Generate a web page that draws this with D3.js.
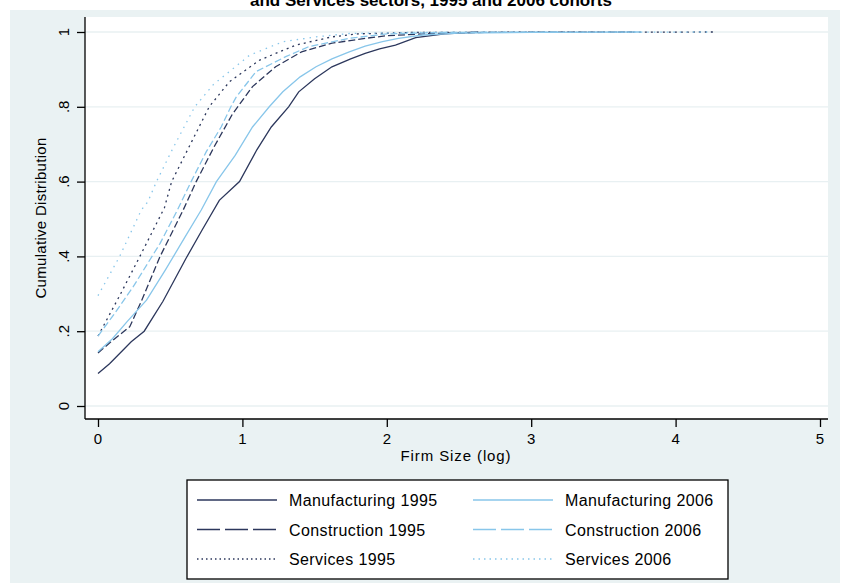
<!DOCTYPE html>
<html>
<head>
<meta charset="utf-8">
<script src="https://cdn.jsdelivr.net/npm/d3@7"></script>
<style>
  body { margin: 0; background: #fff; }
  text { font-family: "Liberation Sans", Arial, sans-serif; fill: #000; }
</style>
</head>
<body>
<svg id="chart" width="844" height="583"></svg>
<script>
// ECDF points: [firm size (log), cumulative share]
const mfg1995 = [[0, 0.087], [0.08, 0.113], [0.23, 0.172], [0.32, 0.2], [0.45, 0.28], [0.61, 0.395], [0.72, 0.47], [0.84, 0.55], [0.98, 0.6], [1.1, 0.685], [1.2, 0.746], [1.32, 0.8], [1.39, 0.84], [1.5, 0.875], [1.62, 0.907], [1.75, 0.928], [1.85, 0.943], [1.95, 0.955], [2.06, 0.965], [2.2, 0.985], [2.4, 0.995], [2.63, 1]];
const con1995 = [[0, 0.142], [0.1, 0.175], [0.22, 0.212], [0.3, 0.28], [0.43, 0.4], [0.59, 0.524], [0.68, 0.6], [0.8, 0.69], [0.93, 0.78], [1.07, 0.854], [1.23, 0.907], [1.41, 0.947], [1.62, 0.97], [1.85, 0.983], [2.0, 0.99], [2.3, 0.996], [2.7, 0.999], [3.7, 1]];
const serv1995 = [[0, 0.187], [0.15, 0.295], [0.29, 0.4], [0.46, 0.53], [0.51, 0.6], [0.64, 0.7], [0.77, 0.8], [0.91, 0.867], [1.12, 0.925], [1.37, 0.965], [1.62, 0.987], [1.8, 0.995], [2.2, 0.999], [4.27, 1]];
const mfg2006 = [[0, 0.145], [0.1, 0.18], [0.2, 0.225], [0.336, 0.283], [0.467, 0.364], [0.6, 0.45], [0.715, 0.524], [0.82, 0.6], [0.95, 0.67], [1.07, 0.746], [1.186, 0.8], [1.28, 0.84], [1.4, 0.88], [1.51, 0.907], [1.62, 0.928], [1.74, 0.947], [1.85, 0.962], [1.97, 0.974], [2.08, 0.983], [2.25, 0.992], [2.5, 0.997], [3.0, 0.999], [3.76, 1]];
const con2006 = [[0, 0.187], [0.12, 0.25], [0.244, 0.319], [0.43, 0.435], [0.55, 0.524], [0.645, 0.6], [0.75, 0.68], [0.853, 0.746], [0.92, 0.8], [0.957, 0.826], [1.094, 0.894], [1.3, 0.934], [1.46, 0.961], [1.74, 0.983], [2.0, 0.995], [2.4, 0.999], [3.2, 1]];
const serv2006 = [[0, 0.295], [0.15, 0.4], [0.3, 0.524], [0.345, 0.546], [0.405, 0.6], [0.52, 0.69], [0.67, 0.8], [0.8, 0.86], [0.89, 0.888], [1.05, 0.938], [1.28, 0.974], [1.51, 0.987], [1.74, 0.996], [2.2, 0.999], [4.25, 1]];

const seriesNames = ['Manufacturing 1995', 'Construction 1995', 'Services 1995', 'Manufacturing 2006', 'Construction 2006', 'Services 2006'];
const seriesData = [mfg1995, con1995, serv1995, mfg2006, con2006, serv2006];
const xTicks = [0, 1, 2, 3, 4, 5];
const yTicks = [0, 0.2, 0.4, 0.6, 0.8, 1];
const yTickLabels = ['0', '.2', '.4', '.6', '.8', '1'];

const dark = '#2c375c';
const light = '#88c6ea';
const styles = [
  { color: dark, dash: null, legendDash: null },
  { color: dark, dash: '7,3', legendDash: '23,5' },
  { color: dark, dash: '2,4', legendDash: '1.5,3' },
  { color: light, dash: null, legendDash: null },
  { color: light, dash: '7,3', legendDash: '23,5' },
  { color: light, dash: '1.5,5', legendDash: '1.5,4' }
];

const svg = d3.select('#chart');

// graph region and plot region
svg.append('rect').attr('x', 10).attr('y', 10).attr('width', 830).attr('height', 573).attr('fill', '#eaf2f3');
svg.append('rect').attr('x', 85).attr('y', 17).attr('width', 743).attr('height', 402).attr('fill', '#fff');

const x = d3.scaleLinear().domain([0, 5]).range([98, 820]);
const y = d3.scaleLinear().domain([0, 1]).range([406, 32]);

// grid
svg.append('g')
  .selectAll('line')
  .data(yTicks)
  .enter().append('line')
  .attr('x1', 85).attr('x2', 828)
  .attr('y1', function (d) { return y(d); })
  .attr('y2', function (d) { return y(d); })
  .attr('stroke', '#e8f0f2')
  .attr('stroke-width', 1.3);

// curves
const line = d3.line()
  .x(function (d) { return x(d[0]); })
  .y(function (d) { return y(d[1]); });

svg.append('g')
  .selectAll('path')
  .data(seriesData)
  .enter().append('path')
  .attr('d', line)
  .attr('fill', 'none')
  .attr('stroke', function (d, i) { return styles[i].color; })
  .attr('stroke-width', 1.3)
  .attr('stroke-dasharray', function (d, i) { return styles[i].dash; });

// axes
const yAxis = svg.append('g')
  .attr('transform', 'translate(85,0)')
  .call(d3.axisLeft(y).tickValues(yTicks).tickSize(8).tickFormat(''));
yAxis.select('.domain').attr('d', 'M0,17V419');
yAxis.selectAll('line, path').attr('stroke', '#000').attr('stroke-width', 1.3);

svg.append('g')
  .selectAll('text')
  .data(yTicks)
  .enter().append('text')
  .attr('transform', function (d) { return 'translate(69,' + y(d) + ') rotate(-90)'; })
  .attr('text-anchor', 'middle')
  .style('font-size', '15px')
  .text(function (d, i) { return yTickLabels[i]; });

const xAxis = svg.append('g')
  .attr('transform', 'translate(0,419)')
  .call(d3.axisBottom(x).tickValues(xTicks).tickSize(8).tickFormat(''));
xAxis.select('.domain').attr('d', 'M85,0H828');
xAxis.selectAll('line, path').attr('stroke', '#000').attr('stroke-width', 1.3);

svg.append('g')
  .selectAll('text')
  .data(xTicks)
  .enter().append('text')
  .attr('x', function (d) { return x(d); })
  .attr('y', 444)
  .attr('text-anchor', 'middle')
  .style('font-size', '15px')
  .text(function (d) { return d; });

// titles
svg.append('text')
  .attr('x', 456).attr('y', 461)
  .attr('text-anchor', 'middle')
  .style('font-size', '15px')
  .style('letter-spacing', '0.9px')
  .text('Firm Size (log)');

svg.append('text')
  .attr('transform', 'translate(46,218) rotate(-90)')
  .attr('text-anchor', 'middle')
  .style('font-size', '15px')
  .style('letter-spacing', '0.3px')
  .text('Cumulative Distribution');

svg.append('text')
  .attr('x', 431).attr('y', 6)
  .attr('text-anchor', 'middle')
  .style('font-size', '17px')
  .style('font-weight', 'bold')
  .text('and Services sectors, 1995 and 2006 cohorts');

// legend
const legend = svg.append('g');
legend.append('rect')
  .attr('x', 187).attr('y', 480).attr('width', 541).attr('height', 99)
  .attr('fill', '#fff').attr('stroke', '#000').attr('stroke-width', 1.3);

const item = legend.selectAll('g')
  .data(seriesNames)
  .enter().append('g')
  .attr('transform', function (d, i) {
    const col = Math.floor(i / 3);
    const row = i % 3;
    return 'translate(' + (col ? 473 : 197) + ',' + (500 + row * 29.5) + ')';
  });

item.append('line')
  .attr('x1', 0).attr('x2', 80).attr('y1', 0).attr('y2', 0)
  .attr('stroke', function (d, i) { return styles[i].color; })
  .attr('stroke-width', 1.3)
  .attr('stroke-dasharray', function (d, i) { return styles[i].legendDash; });

item.append('text')
  .attr('x', 92).attr('y', 6)
  .style('font-size', '16px')
  .style('letter-spacing', '0.4px')
  .text(function (d) { return d; });
</script>
</body>
</html>
